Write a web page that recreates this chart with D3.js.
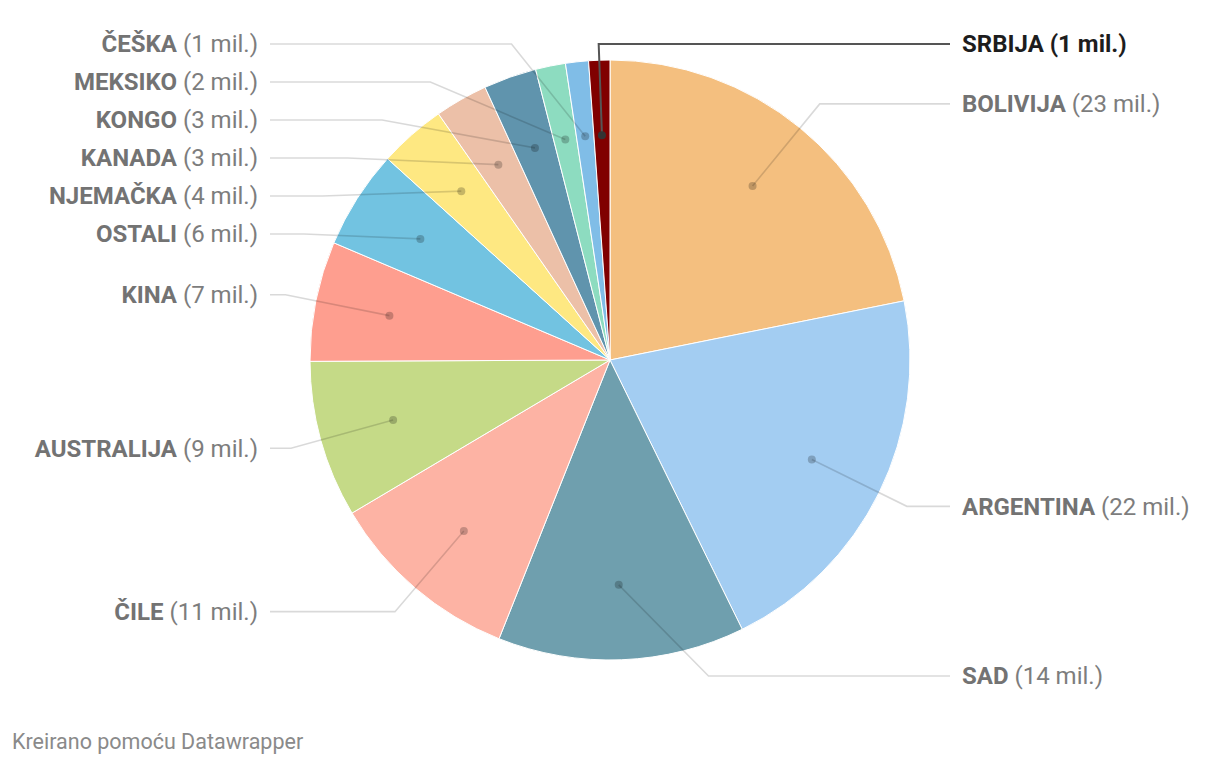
<!DOCTYPE html>
<html>
<head>
<meta charset="utf-8">
<script src="https://cdn.jsdelivr.net/npm/d3@7"></script>
<style>
  html, body { margin: 0; padding: 0; background: #fff; }
  svg { display: block; font-family: Roboto, "Noto Sans", sans-serif; }
</style>
</head>
<body>
<svg id="chart" width="1220" height="766"></svg>
<script>
// ---- data ----
const countries = ["BOLIVIJA", "ARGENTINA", "SAD", "ČILE", "AUSTRALIJA", "KINA", "OSTALI", "NJEMAČKA", "KANADA", "KONGO", "MEKSIKO", "ČEŠKA", "SRBIJA"];
const values    = [23, 22, 14, 11, 8.9, 6.8, 5.6, 3.8, 3, 3, 1.7, 1.3, 1.2];
const labels    = ["23 mil.", "22 mil.", "14 mil.", "11 mil.", "9 mil.", "7 mil.", "6 mil.", "4 mil.", "3 mil.", "3 mil.", "2 mil.", "1 mil.", "1 mil."];
const colors    = ["#f4bf7f", "#a3cdf2", "#6f9fae", "#fdb3a4", "#c5da87", "#fe9e8f", "#72c3e1", "#fee882", "#ecc0a8", "#6094ad", "#8ddcc0", "#80bde7", "#800000"];
const highlighted = ["SRBIJA"];
const footer = "Kreirano pomoću Datawrapper";

// ---- layout ----
const svg = d3.select("#chart");
const cx = 610, cy = 360, r = 300;
const labelR = 331, dotR = 0.75 * r;
const labelTop = 44, labelBottom = 676, gap = 38;

const data = countries.map((c, i) => ({ name: c, value: values[i], label: labels[i], color: colors[i], hl: highlighted.includes(c) }));

const pie = d3.pie().sort(null).value(d => d.value);
const arcs = pie(data);
const arc = d3.arc().innerRadius(0).outerRadius(r);

const g = svg.append("g").attr("transform", `translate(${cx},${cy})`);

g.selectAll("path.slice")
  .data(arcs)
  .join("path")
  .attr("class", "slice")
  .attr("d", arc)
  .attr("fill", d => d.data.color)
  .attr("stroke", "#fff")
  .attr("stroke-width", 1);

// label positions
arcs.forEach(a => {
  a.mid = (a.startAngle + a.endAngle) / 2;
  a.side = (a.data.hl || a.mid < Math.PI) ? 1 : -1;
  a.desiredY = -labelR * Math.cos(a.mid);
  a.dot = [dotR * Math.sin(a.mid), -dotR * Math.cos(a.mid)];
});

function layoutSide(list) {
  list.sort((a, b) => a.desiredY - b.desiredY);
  let prev = -Infinity;
  list.forEach(a => {
    let y = Math.max(a.desiredY, labelTop - cy, prev + gap);
    a.y = y; prev = y;
  });
  let next = Infinity;
  for (let i = list.length - 1; i >= 0; i--) {
    const a = list[i];
    a.y = Math.min(a.y, labelBottom - cy, next - gap);
    next = a.y;
  }
}
layoutSide(arcs.filter(a => a.side === 1));
layoutSide(arcs.filter(a => a.side === -1));

arcs.forEach(a => {
  const naturalSide = a.mid < Math.PI ? 1 : -1;
  let ex;
  if (naturalSide !== a.side) {
    ex = a.y * -Math.tan(a.mid);
  } else {
    const dy = Math.min(Math.abs(a.y), labelR);
    ex = a.side * Math.sqrt(labelR * labelR - dy * dy);
  }
  a.elbow = [ex, a.y];
  a.end = [a.side * 340, a.y];
  a.textX = a.side * 352;
});

const line = d3.line();
g.selectAll("path.leader")
  .data(arcs)
  .join("path")
  .attr("class", "leader")
  .attr("d", a => line([a.dot, a.elbow, a.end]))
  .attr("fill", "none")
  .attr("stroke", a => a.data.hl ? "#555" : "rgba(0,0,0,0.15)")
  .attr("stroke-width", a => a.data.hl ? 2 : 1.6);

g.selectAll("circle.dot")
  .data(arcs)
  .join("circle")
  .attr("class", "dot")
  .attr("cx", a => a.dot[0])
  .attr("cy", a => a.dot[1])
  .attr("r", 4)
  .attr("fill", a => a.data.hl ? "#333" : "rgba(0,0,0,0.22)");

const t = g.selectAll("text.lbl")
  .data(arcs)
  .join("text")
  .attr("class", "lbl")
  .attr("x", a => a.textX)
  .attr("y", a => a.y)
  .attr("dy", "0.35em")
  .attr("text-anchor", a => a.side === 1 ? "start" : "end")
  .attr("font-size", 24);
t.append("tspan")
  .attr("font-weight", 700)
  .attr("fill", a => a.data.hl ? "#1d1d1d" : "#737373")
  .text(a => a.data.name);
t.append("tspan")
  .attr("font-weight", a => a.data.hl ? 700 : 400)
  .attr("fill", a => a.data.hl ? "#1d1d1d" : "#7d7d7d")
  .text(a => ` (${a.data.label})`);

svg.append("text")
  .attr("x", 12)
  .attr("y", 749)
  .attr("font-size", 21.5)
  .attr("fill", "#8a8a8a")
  .text(footer);
</script>
</body>
</html>
